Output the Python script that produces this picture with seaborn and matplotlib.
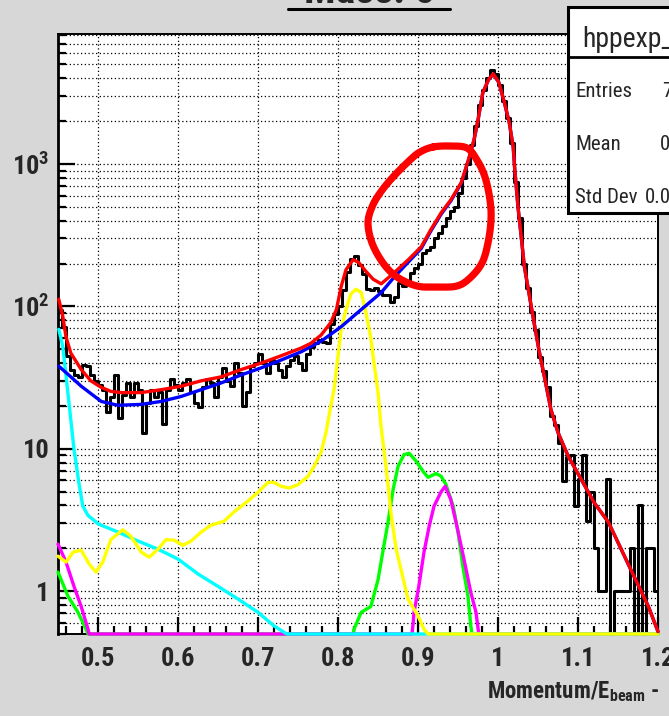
import numpy as np
import matplotlib
matplotlib.use("Agg")
import matplotlib.pyplot as plt
import seaborn as sns
from matplotlib import font_manager
from matplotlib.lines import Line2D
from matplotlib.patches import Rectangle
from matplotlib.ticker import FixedLocator, FixedFormatter, MultipleLocator, NullFormatter

# ---------------- data ----------------
BIN_LO = 0.45
BIN_W = 0.005
data_counts = [95, 72, 45, 36, 33, 32, 39, 38, 33, 30,
               28, 26, 18, 23, 33, 16.5, 24, 29, 23, 29,
               26, 13, 21, 26, 23, 25, 15, 26, 31, 28,
               26, 29, 31, 25, 21, 19.5, 27, 31, 29, 23,
               32, 37, 30, 27.5, 40, 34, 20, 25, 38, 40,
               46, 40, 34, 42, 40, 36, 32, 38, 42, 45,
               40, 36, 46, 52, 55, 58, 56, 55, 75, 88,
               100, 130, 175, 215, 225, 195, 170, 132, 130, 135,
               128, 121, 120, 107, 117, 146, 140, 150, 172, 185,
               200, 237, 250, 262, 300, 330, 365, 420, 470, 500,
               625, 800, 1000, 1350, 1850, 2600, 3300, 4000, 4600, 4300,
               3600, 2750, 2100, 1400, 750, 420, 200, 135, 92, 68,
               44, 35, 27, 17, 14.8, 11, 5.9, 8.8, 9, 3.95,
               6.1, 9, 3.1, 5, 2, 1, 1, 6.1, 0, 1,
               1, 1, 1, 2, 0, 4, 0, 2, 2, 1]

total_x = [0.451, 0.456, 0.460, 0.466, 0.479, 0.491, 0.504, 0.516, 0.529, 0.554,
           0.579, 0.604, 0.629, 0.654, 0.679, 0.704, 0.729, 0.754, 0.766, 0.779,
           0.791, 0.798, 0.804, 0.810, 0.819, 0.826, 0.835, 0.844, 0.854, 0.870,
           0.888, 0.904, 0.916, 0.929, 0.941, 0.954, 0.963, 0.970, 0.975, 0.981,
           0.988, 0.994, 1.001, 1.008, 1.014, 1.019, 1.021, 1.025, 1.029, 1.033,
           1.038, 1.043, 1.051, 1.058, 1.066, 1.075, 1.088, 1.104, 1.120, 1.138,
           1.154, 1.170, 1.188, 1.200]
total_y = [112, 85, 61, 47, 36, 30, 27, 25.3, 24.8, 24.8,
           26, 27.5, 30, 32, 36, 40, 45, 51, 55, 63,
           77, 95, 138, 181, 213, 203, 176, 155, 144, 172,
           213, 262, 346, 455, 560, 740, 1070, 1480, 2040, 3170,
           3900, 4300, 3750, 2700, 1970, 1320, 910, 500, 310, 190,
           131, 90, 50, 32, 19, 13, 8.8, 6.1, 4.2, 3.05,
           1.97, 1.27, 0.78, 0.52]

main_x = [0.451, 0.466, 0.479, 0.504, 0.525, 0.554, 0.579, 0.604, 0.629, 0.654,
          0.679, 0.704, 0.729, 0.754, 0.779, 0.804, 0.829, 0.854, 0.870, 0.888,
          0.904, 0.916, 0.929, 0.941, 0.954, 0.963, 0.970, 0.975, 0.981, 0.988,
          0.994, 1.001, 1.008, 1.014, 1.019, 1.021, 1.025, 1.029, 1.033, 1.038,
          1.043, 1.051, 1.058, 1.066, 1.075, 1.088, 1.104, 1.120, 1.138, 1.154,
          1.170, 1.188, 1.200]
main_y = [38, 32, 27.5, 21.5, 20.2, 20.5, 21.5, 23.3, 26, 29,
          33, 37, 42, 48, 57, 72, 95, 125, 160, 205,
          255, 338, 445, 550, 730, 1060, 1470, 2030, 3160, 3890,
          4280, 3740, 2690, 1965, 1315, 905, 498, 309, 189, 130,
          89, 50, 32, 19, 13, 8.8, 6.1, 4.2, 3.05, 1.97,
          1.27, 0.78, 0.52]

cyan_x = [0.451, 0.456, 0.461, 0.466, 0.470, 0.4725, 0.476, 0.481, 0.4875, 0.501,
          0.525, 0.550, 0.575, 0.600, 0.625, 0.650, 0.675, 0.700, 0.720, 0.736,
          0.737, 1.200]
cyan_y = [69, 52, 29, 16, 9.9, 8, 5.8, 3.95, 3.4, 2.95,
          2.6, 2.25, 1.97, 1.68, 1.32, 1.08, 0.88, 0.71, 0.57, 0.5,
          0, 0]

yellow_x = [0.450, 0.460, 0.469, 0.479, 0.489, 0.4975, 0.506, 0.516, 0.531, 0.541,
            0.554, 0.564, 0.575, 0.585, 0.595, 0.606, 0.616, 0.629, 0.641, 0.6575,
            0.670, 0.6875, 0.700, 0.7125, 0.720, 0.729, 0.739, 0.750, 0.7625, 0.770,
            0.779, 0.785, 0.791, 0.795, 0.800, 0.804, 0.810, 0.816, 0.8225, 0.829,
            0.835, 0.841, 0.845, 0.850, 0.854, 0.860, 0.866, 0.8725, 0.879, 0.8875,
            0.900, 0.9075, 0.9125, 0.914, 1.200]
yellow_y = [1.76, 1.6, 1.88, 1.94, 1.55, 1.36, 1.6, 2.3, 2.7, 2.43,
            1.88, 1.73, 1.97, 2.3, 2.28, 2.1, 2.24, 2.6, 2.9, 3.1,
            3.6, 4.3, 4.95, 5.8, 5.8, 5.45, 5.3, 5.6, 6.4, 7.5,
            9.5, 13, 20, 26, 45, 69, 95, 122, 132, 125,
            90, 60, 40, 25, 14, 7.5, 3.6, 2.0, 1.4, 0.88,
            0.67, 0.54, 0.5, 0, 0]

green_x = [0.450, 0.4625, 0.475, 0.485, 0.4875, 0.489, 0.819, 0.820, 0.829, 0.841,
           0.850, 0.856, 0.8625, 0.869, 0.875, 0.8825, 0.889, 0.8975, 0.9075, 0.9125,
           0.9225, 0.929, 0.935, 0.944, 0.950, 0.956, 0.9625, 0.966, 0.9675, 1.200]
green_y = [1.36, 0.92, 0.71, 0.54, 0.5, 0, 0, 0.54, 0.71, 0.78,
           1.2, 1.88, 3.05, 5.2, 7.5, 9.1, 9.3, 8.2, 6.8, 6.3,
           6.7, 6.4, 5.6, 3.95, 2.6, 1.5, 0.92, 0.57, 0, 0]

magenta_x = [0.450, 0.460, 0.470, 0.479, 0.4875, 0.489, 0.490, 0.8925, 0.894, 0.895,
             0.901, 0.9075, 0.914, 0.920, 0.929, 0.934, 0.941, 0.9475, 0.954, 0.960,
             0.966, 0.9725, 0.975, 0.976, 1.200]
magenta_y = [2.14, 1.6, 1.08, 0.78, 0.54, 0.5, 0, 0, 0.6, 0.71,
             1.08, 1.88, 2.86, 3.95, 5.0, 5.45, 4.4, 3.05, 2.07, 1.43,
             0.98, 0.71, 0.55, 0, 0]

x_ticks = [0.5, 0.6, 0.7, 0.8, 0.9, 1.0, 1.1, 1.2]
x_tick_labels = ["0.5", "0.6", "0.7", "0.8", "0.9", "1", "1.1", "1.2"]
y_ticks = [1, 10, 100, 1000]
y_tick_labels = ["1", "10", r"$\mathbf{10^{2}}$", r"$\mathbf{10^{3}}$"]

stats_title = "hppexp_"
stats_rows = [("Entries", "72846"), ("Mean", "0.9498"), ("Std Dev", "0.06431")]

# ---------------- fonts ----------------
ttf_names = {f.name for f in font_manager.fontManager.ttflist}
FONT = "Liberation Sans"
for pref in ["Liberation Sans Narrow", "Roboto Condensed", "Archivo Narrow",
             "DejaVu Sans Condensed"]:
    if pref in ttf_names:
        FONT = pref
        break
NARROW = FONT != "Liberation Sans"

sns.set_style("white")
plt.rcParams["font.family"] = [FONT, "DejaVu Sans"]
plt.rcParams["mathtext.fontset"] = "custom"
plt.rcParams["mathtext.rm"] = FONT + ":bold"
plt.rcParams["mathtext.bf"] = FONT + ":bold"
plt.rcParams["mathtext.it"] = FONT + ":bold"

W, H = 669, 716
YMIN, YMAX = 0.5, 8185


def fx(px):
    return px / W


def fy(py):
    return 1 - py / H


fig = plt.figure(figsize=(W / 100, H / 100), dpi=100, facecolor="#d7d7d7")
ax = fig.add_axes([fx(58), fy(634), 600 / W, 600 / H])
ax.set_facecolor("white")
ax.set_yscale("log")
ax.set_xlim(0.45, 1.2)
ax.set_ylim(YMIN, YMAX)

centers = BIN_LO + BIN_W * (np.arange(len(data_counts)) + 0.5)
floor = lambda v: np.maximum(np.asarray(v, dtype=float), YMIN)

sns.lineplot(x=centers, y=floor(data_counts), ax=ax, color="black", lw=2.2,
             drawstyle="steps-mid", estimator=None, sort=False, zorder=3, clip_on=False)
for xs, ys, col in [(green_x, green_y, "#00ff00"), (magenta_x, magenta_y, "#ff00ff"),
                    (cyan_x, cyan_y, "#00ffff"), (yellow_x, yellow_y, "#ffff00")]:
    sns.lineplot(x=xs, y=floor(ys), ax=ax, color=col, lw=2.4, estimator=None,
                 sort=False, zorder=4, clip_on=False)
sns.lineplot(x=main_x, y=floor(main_y), ax=ax, color="#0000ff", lw=2.4,
             estimator=None, sort=False, zorder=5, clip_on=False)
sns.lineplot(x=total_x, y=floor(total_y), ax=ax, color="#ff0000", lw=2.4,
             estimator=None, sort=False, zorder=6, clip_on=False)

# ticks & grid
TICK_FS = 19 if NARROW else 17
ax.xaxis.set_major_locator(FixedLocator(x_ticks))
ax.xaxis.set_major_formatter(FixedFormatter(x_tick_labels))
ax.xaxis.set_minor_locator(MultipleLocator(0.02))
ax.yaxis.set_major_locator(FixedLocator(y_ticks))
ax.yaxis.set_major_formatter(FixedFormatter(y_tick_labels))
ax.yaxis.set_minor_locator(FixedLocator([m * 10.0 ** e for e in range(-1, 4)
                                         for m in range(2, 10) if m * 10.0 ** e < YMAX]))
ax.yaxis.set_minor_formatter(NullFormatter())
ax.tick_params(which="both", direction="in", color="black", width=1.6,
               top=False, right=False, left=True, bottom=True)
ax.tick_params(which="major", length=12.5)
ax.tick_params(which="minor", length=6)
ax.tick_params(axis="x", which="major", pad=9)
ax.tick_params(axis="y", which="major", pad=6)
for lab in ax.get_xticklabels() + ax.get_yticklabels():
    lab.set_fontsize(TICK_FS)
    lab.set_fontweight("bold")
ax.set_axisbelow(True)
grid_kw = dict(color="black", linestyle=(0, (1, 2)), linewidth=0.9)
ax.grid(True, which="major", axis="x", **grid_kw)
ax.grid(True, which="both", axis="y", **grid_kw)
for side, sp in ax.spines.items():
    sp.set_color("black")
    sp.set_linewidth(2.0 if side == "left" else 1.4)
ax.set_xlabel("")
ax.set_ylabel("")

# axis title (fits between x=487 and the page edge)
fig.text(fx(487), fy(698), r"Momentum/E$_{\mathbf{beam}}$ -", fontsize=16.5 if NARROW else 14,
         fontweight="bold", ha="left", va="baseline")

# clipped page title with underline
fig.text(fx(369), fy(3), "Mass. c", fontsize=30, fontweight="bold", ha="center", va="baseline")
fig.add_artist(Line2D([fx(288), fx(450)], [fy(9), fy(9)], color="black", lw=2.2))

# stats box
fig.add_artist(Rectangle((fx(568), fy(213)), fx(680) - fx(568), fy(7) - fy(213),
                         transform=fig.transFigure, facecolor="white", edgecolor="black",
                         lw=2.2, zorder=7, clip_on=False))
fig.add_artist(Line2D([fx(568), fx(680)], [fy(57), fy(57)], color="black", lw=2.0, zorder=8))
fig.text(fx(582), fy(47), stats_title, fontsize=20 if NARROW else 18, ha="left",
         va="baseline", zorder=9)
STAT_FS = 15 if NARROW else 13
for (lab, val), base, vx in zip(stats_rows, [97, 150, 203], [662, 660, 645]):
    fig.text(fx(575), fy(base), lab, fontsize=STAT_FS, ha="left", va="baseline", zorder=9)
    fig.text(fx(vx), fy(base), val, fontsize=STAT_FS, ha="left", va="baseline", zorder=9)

# hand-drawn red loop annotation
loop_px = [(433, 147), (450, 146), (467, 148), (477, 160), (485, 177), (490, 200),
           (491, 220), (488, 243), (482, 263), (470, 278), (457, 286), (437, 287),
           (417, 286), (397, 277), (383, 263), (372, 243), (368, 223), (372, 207),
           (380, 193), (393, 177), (410, 160), (420, 152)]


def catmull(pts, n=14):
    P = np.array(pts, dtype=float)
    N = len(P)
    out = []
    for i in range(N):
        p0, p1, p2, p3 = P[i - 1], P[i], P[(i + 1) % N], P[(i + 2) % N]
        for t in np.linspace(0, 1, n, endpoint=False):
            out.append(0.5 * (2 * p1 + (-p0 + p2) * t + (2 * p0 - 5 * p1 + 4 * p2 - p3) * t * t
                              + (-p0 + 3 * p1 - 3 * p2 + p3) * t ** 3))
    out.append(out[0])
    return np.array(out)


loop = catmull(loop_px)
fig.add_artist(Line2D(fx(loop[:, 0]), fy(loop[:, 1]), color="#ff0000", lw=5.2,
                      solid_joinstyle="round", solid_capstyle="round", zorder=10))

fig.savefig("out.png", dpi=100, facecolor=fig.get_facecolor())
